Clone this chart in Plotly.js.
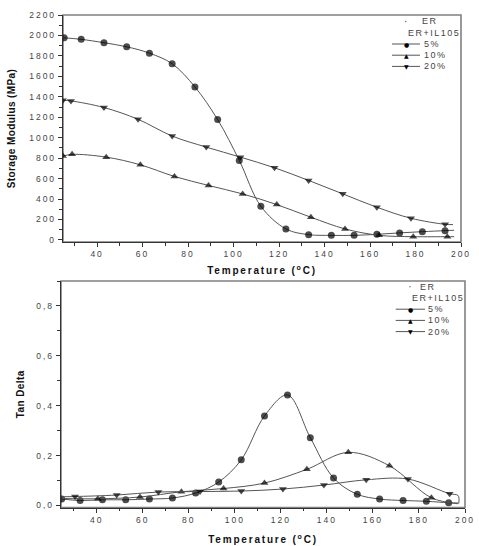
<!DOCTYPE html>
<html>
<head>
<meta charset="utf-8">
<script src="https://cdn.plot.ly/plotly-3.0.1.min.js"></script>
<style>
  html, body { margin: 0; padding: 0; background: #fff; }
  #chart { width: 479px; height: 546px; }
  .xtick text, .x2tick text, .ytick text, .y2tick text { letter-spacing: 2px; }
  .xtitle, .x2title { letter-spacing: 1.8px; }
  .ytitle, .y2title { letter-spacing: 0.4px; }
  .annotation-text { letter-spacing: 1.5px; }
</style>
</head>
<body>
<div id="chart"></div>
<script>
// ---- Storage modulus (MPa) vs temperature (°C) ----
const smTemp5  = [25.5, 33, 43, 53, 63, 73, 83, 93, 102.5, 112, 123, 133, 143, 153, 163, 173, 183, 193, 197];
const smVal5   = [1977, 1962, 1929, 1889, 1827, 1723, 1497, 1177, 778, 330, 108, 52, 45, 45, 55, 69, 81, 91, 95];
const smTemp10 = [25, 29, 44, 59, 74, 89, 104, 119, 134, 149, 164, 179, 194, 197];
const smVal10  = [820, 837, 810, 735, 621, 533, 450, 346, 222, 108, 45, 32, 32, 32];
const smTemp20 = [25, 28.5, 43, 58, 73, 88, 103, 118, 133, 148, 163, 178, 193, 196.5];
const smVal20  = [1366, 1360, 1295, 1180, 1016, 908, 810, 706, 582, 451, 320, 212, 153, 150];

// ---- Tan delta vs temperature (°C) ----
const tdTemp5  = [24.8, 32.8, 42.5, 52.6, 62.9, 72.9, 83, 93, 102.8, 112.9, 122.9, 132.8, 142.9, 153.2, 162.9, 173.1, 183.2, 192.9, 197.2];
const tdVal5   = [0.026, 0.020, 0.023, 0.023, 0.026, 0.030, 0.050, 0.094, 0.183, 0.359, 0.443, 0.272, 0.110, 0.045, 0.026, 0.020, 0.017, 0.011, 0.010];
const tdTemp10 = [25, 40.5, 58.8, 76.8, 95.1, 112.9, 131.3, 149.3, 167.2, 185.4, 197];
const tdVal10  = [0.028, 0.027, 0.034, 0.055, 0.068, 0.090, 0.145, 0.213, 0.159, 0.031, 0.007];
const tdTemp20 = [25, 30.6, 48.7, 66.8, 84.9, 102.8, 120.9, 138.7, 157.1, 175.2, 193.3, 197, 197.3];
const tdVal20  = [0.035, 0.036, 0.042, 0.054, 0.056, 0.058, 0.066, 0.082, 0.103, 0.106, 0.047, 0.040, 0.008];

// markers shown on measured points only (0 = curve end without a symbol)
const smShow5  = [1,1,1,1,1,1,1,1,1,1,1,1,1,1,1,1,1,1,0];
const smShow10 = [1,1,1,1,1,1,1,1,1,1,1,1,1,0];
const smShow20 = [1,1,1,1,1,1,1,1,1,1,1,1,1,0];
const tdShow5  = [1,1,1,1,1,1,1,1,1,1,1,1,1,1,1,1,1,1,0];
const tdShow10 = [0,1,1,1,1,1,1,1,1,1,0];
const tdShow20 = [0,1,1,1,1,1,1,1,1,1,1,0,0];

const seriesNames = ['5%', '10%', '20%'];
const symbols = ['circle', 'triangle-up', 'triangle-down'];

const W = 479, H = 546;
const px = v => v / W;
const py = v => 1 - v / H;

function trace(x, y, show, i, xa, ya) {
  return {
    x: x, y: y, xaxis: xa, yaxis: ya, name: seriesNames[i],
    type: 'scatter', mode: 'lines+markers',
    line: { shape: 'spline', smoothing: 1, color: '#555', width: 1 },
    marker: { symbol: symbols[i], color: '#000', size: show.map(s => s ? 7 : 0), line: { width: 0 } },
    showlegend: false, hoverinfo: 'x+y'
  };
}

const data = [
  trace(smTemp5,  smVal5,  smShow5,  0, 'x', 'y'),
  trace(smTemp10, smVal10, smShow10, 1, 'x', 'y'),
  trace(smTemp20, smVal20, smShow20, 2, 'x', 'y'),
  trace(tdTemp5,  tdVal5,  tdShow5,  0, 'x2', 'y2'),
  trace(tdTemp10, tdVal10, tdShow10, 1, 'x2', 'y2'),
  trace(tdTemp20, tdVal20, tdShow20, 2, 'x2', 'y2')
];

const tickFont = { family: 'Liberation Sans, Arial, sans-serif', size: 8.5, color: '#444' };
const titleFont = { family: 'Liberation Sans, Arial, sans-serif', size: 10, color: '#111', weight: 'bold' };

function xAxis(domain, range, anchor, standoff) {
  return {
    domain: domain, range: range, anchor: anchor,
    tick0: 0, dtick: 20, ticks: 'outside', ticklen: 4, tickwidth: 1, tickcolor: '#333',
    minor: { dtick: 10, ticks: 'outside', ticklen: 2.5, tickcolor: '#333', showgrid: false },
    showline: true, linecolor: '#333', linewidth: 1.2, showgrid: false, zeroline: false,
    tickfont: tickFont,
    title: { text: 'Temperature (<sup>o</sup>C)', font: titleFont, standoff: standoff }
  };
}
function yAxis(domain, range, anchor, dtick, minor, title, standoff, fmt) {
  const a = {
    domain: domain, range: range, anchor: anchor,
    tick0: 0, dtick: dtick, ticks: 'outside', ticklen: 4, tickwidth: 1, tickcolor: '#333',
    minor: { dtick: minor, ticks: 'outside', ticklen: 2.5, tickcolor: '#333', showgrid: false },
    showline: true, linecolor: '#333', linewidth: 1.2, showgrid: false, zeroline: false,
    tickfont: tickFont,
    title: { text: title, font: titleFont, standoff: standoff }
  };
  if (fmt) a.tickformat = fmt;
  return a;
}

const frame = (xr, yr) => ({
  type: 'rect', xref: xr + ' domain', yref: yr + ' domain', x0: 0, x1: 1, y0: 0, y1: 1,
  line: { color: '#808080', width: 1.6 }, layer: 'below'
});

// legend drawing (decoration, positioned in page pixels)
function legendBlock(top, erX, dotX, lineX0, lineX1, textX) {
  const ann = [];
  const shp = [];
  const glyphs = ['●', '▲', '▼'];
  shp.push({ type: 'circle', xref: 'paper', yref: 'paper', x0: px(dotX - 0.8), x1: px(dotX + 0.8),
             y0: py(top + 0.8), y1: py(top - 0.8), fillcolor: '#777', line: { width: 0 } });
  ann.push({ xref: 'paper', yref: 'paper', x: px(erX), y: py(top), text: 'ER', showarrow: false,
             xanchor: 'center', yanchor: 'middle', font: { family: 'Liberation Sans, Arial', size: 9, color: '#444' } });
  ann.push({ xref: 'paper', yref: 'paper', x: px(textX + 40), y: py(top + 11.5), text: 'ER+IL105', showarrow: false,
             xanchor: 'right', yanchor: 'middle', font: { family: 'Liberation Sans, Arial', size: 9, color: '#444' } });
  for (let i = 0; i < 3; i++) {
    const yy = top + 22.5 + i * 11.2;
    shp.push({ type: 'line', xref: 'paper', yref: 'paper', x0: px(lineX0), x1: px(lineX1), y0: py(yy), y1: py(yy),
               line: { color: '#555', width: 1 } });
    ann.push({ xref: 'paper', yref: 'paper', x: px((lineX0 + lineX1) / 2 + 1), y: py(yy), text: glyphs[i], showarrow: false,
               xanchor: 'center', yanchor: 'middle', font: { family: 'DejaVu Sans', size: 6, color: '#000' } });
    ann.push({ xref: 'paper', yref: 'paper', x: px(textX), y: py(yy), text: seriesNames[i], showarrow: false,
               xanchor: 'left', yanchor: 'middle', font: { family: 'Liberation Sans, Arial', size: 9, color: '#444' } });
  }
  return { ann, shp };
}

const lg1 = legendBlock(21.5, 430, 405.7, 392, 420, 422);
const lg2 = legendBlock(286.7, 428, 410, 395.7, 425, 426.3);

const layout = {
  width: W, height: H,
  margin: { l: 0, r: 0, t: 0, b: 0 },
  paper_bgcolor: '#fff', plot_bgcolor: '#fff',
  showlegend: false,
  separators: ',.',
  font: { family: 'Liberation Sans, Arial, sans-serif', color: '#333' },
  xaxis: xAxis([63 / W, 461 / W], [25, 200], 'y', 8),
  yaxis: yAxis([1 - 242 / H, 1 - 15 / H], [-20, 2200], 'x', 200, 100, 'Storage Modulus (MPa)', 11),
  xaxis2: xAxis([61 / W, 465 / W], [24.5, 200], 'y2', 12),
  yaxis2: yAxis([1 - 507.5 / H, 1 - 281 / H], [-0.008, 0.9], 'x2', 0.2, 0.1, 'Tan Delta', 9, '.1f'),
  shapes: [frame('x', 'y'), frame('x2', 'y2')].concat(lg1.shp, lg2.shp),
  annotations: lg1.ann.concat(lg2.ann)
};

Plotly.newPlot('chart', data, layout, { displayModeBar: false, staticPlot: true });
</script>
</body>
</html>
